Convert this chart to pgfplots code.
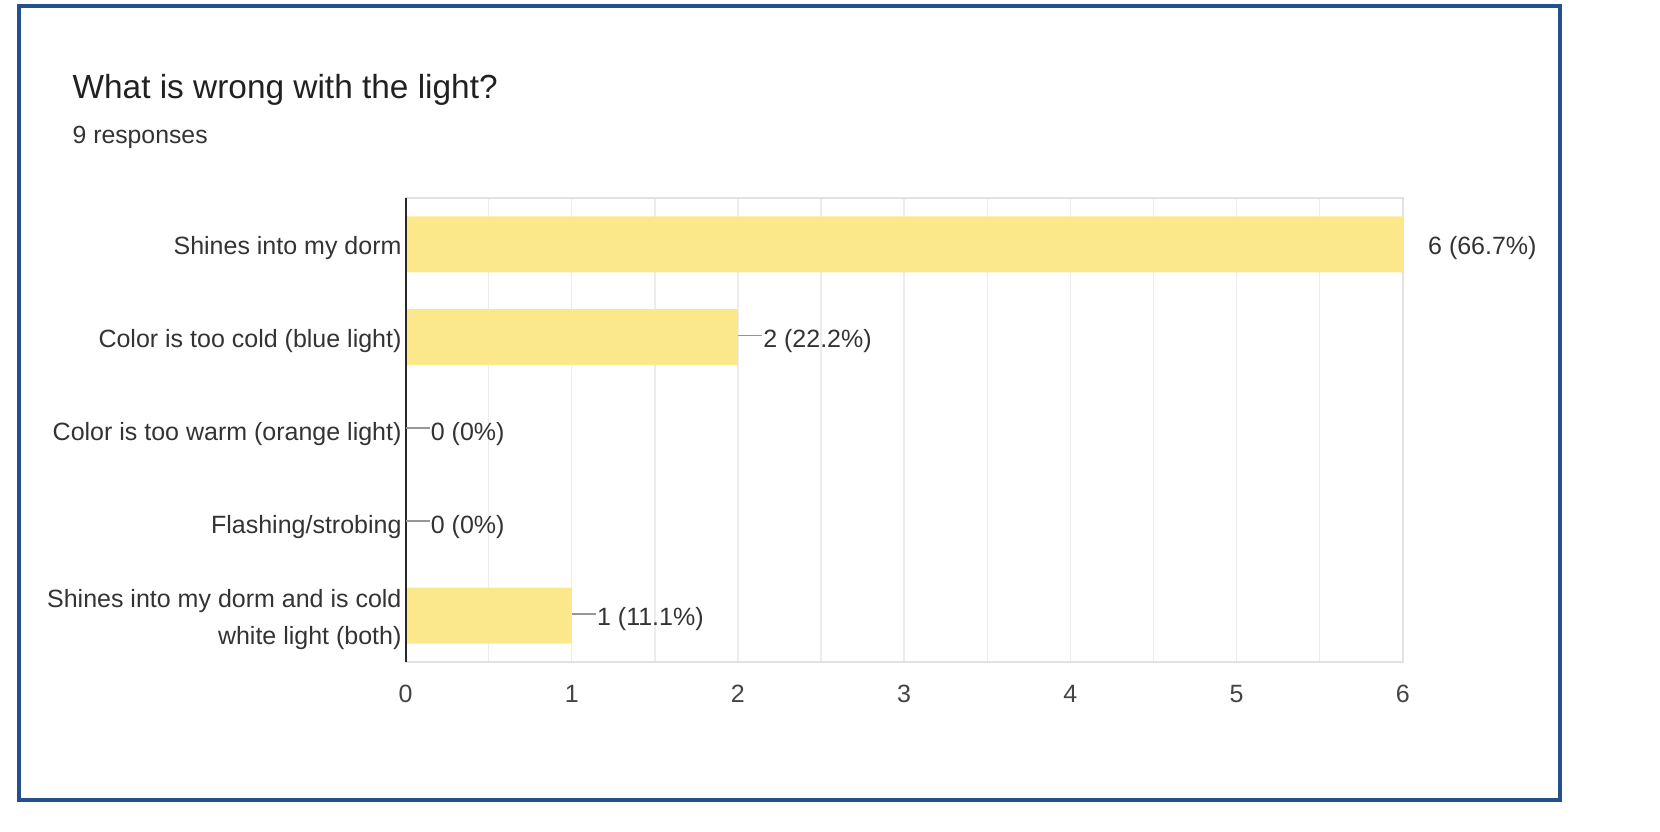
\documentclass[border=0pt]{standalone}
\usepackage{fontspec}
\setmainfont{Liberation Sans}
\usepackage{pgfplots}
\pgfplotsset{compat=1.18}
\definecolor{baryellow}{RGB}{250,232,138}
\definecolor{frameblue}{RGB}{36,80,140}
\definecolor{gridgray}{RGB}{236,236,236}
\definecolor{bordergray}{RGB}{226,226,226}
\definecolor{txt}{RGB}{51,51,51}
\definecolor{ticktxt}{RGB}{68,68,68}
\definecolor{titletxt}{RGB}{33,33,33}
\definecolor{stemgray}{RGB}{150,150,150}
\definecolor{axisdark}{RGB}{40,40,40}
\newcommand\stem{\textcolor{stemgray}{\rule[\dimexpr0.33em+1.6pt\relax]{12pt}{0.8pt}}\hspace{0.5pt}}
\newcommand\nostem{\hspace{12.5pt}}
\begin{document}
\begin{tikzpicture}
\useasboundingbox (0,0) rectangle (830pt,415.5pt);
\draw[frameblue, line width=2pt] (9.5pt,15.65pt) rectangle (780pt,412.3pt);
\node[anchor=base west, inner sep=0pt, text=titletxt, font=\fontsize{16.7pt}{20pt}\selectfont] at (36.1pt,366.2pt) {What is wrong with the light?};
\node[anchor=base west, inner sep=0pt, text=txt, font=\fontsize{12.4pt}{15pt}\selectfont] at (36.1pt,343.75pt) {9 responses};
\begin{axis}[
  at={(202.75pt,84.5pt)}, anchor=south west,
  scale only axis, width=498.65pt, height=232pt,
  xbar, bar width=28pt,
  xmin=0, xmax=6, ymin=-0.5, ymax=4.5, y dir=reverse,
  ytick={0,1,2,3,4},
  yticklabels={Shines into my dorm, Color is too cold (blue light), Color is too warm (orange light), Flashing/strobing, {\rule{0pt}{9.4pt}Shines into my dorm and is cold\\white light (both)}},
  yticklabel style={align=right, anchor=east, inner sep=0pt, xshift=2.45pt, yshift=-1.93pt, text=txt, font=\fontsize{12.5pt}{18.5pt}\selectfont},
  xtick={0,1,2,3,4,5,6}, minor x tick num=1,
  /pgf/number format/assume math mode=true,
  xticklabel style={anchor=north, inner sep=0pt, yshift=-12.95pt, text=ticktxt, font=\fontsize{12.5pt}{15pt}\selectfont, text height=0.716em, text depth=0pt},
  xmajorgrids, xminorgrids,
  major grid style={gridgray, line width=0.75pt},
  minor grid style={gridgray, line width=0.75pt},
  tick style={draw=none},
  axis line style={bordergray, line width=0.75pt},
  point meta=explicit symbolic,
  nodes near coords={\pgfplotspointmeta},
  every node near coord/.append style={anchor=west, inner sep=0pt, yshift=-1.6pt, text=txt, font=\fontsize{12.5pt}{15pt}\selectfont, text height=0.716em, text depth=0pt},
  clip=false,
]
\addplot[fill=baryellow, draw=none] coordinates {
  (6,0) [\nostem 6 (66.7\%)]
  (2,1) [\stem 2 (22.2\%)]
  (0,2) [\stem 0 (0\%)]
  (0,3) [\stem 0 (0\%)]
  (1,4) [\stem 1 (11.1\%)]
};
\draw[axisdark, line width=1pt] (rel axis cs:0,0) -- (rel axis cs:0,1);
\end{axis}
\end{tikzpicture}
\end{document}
